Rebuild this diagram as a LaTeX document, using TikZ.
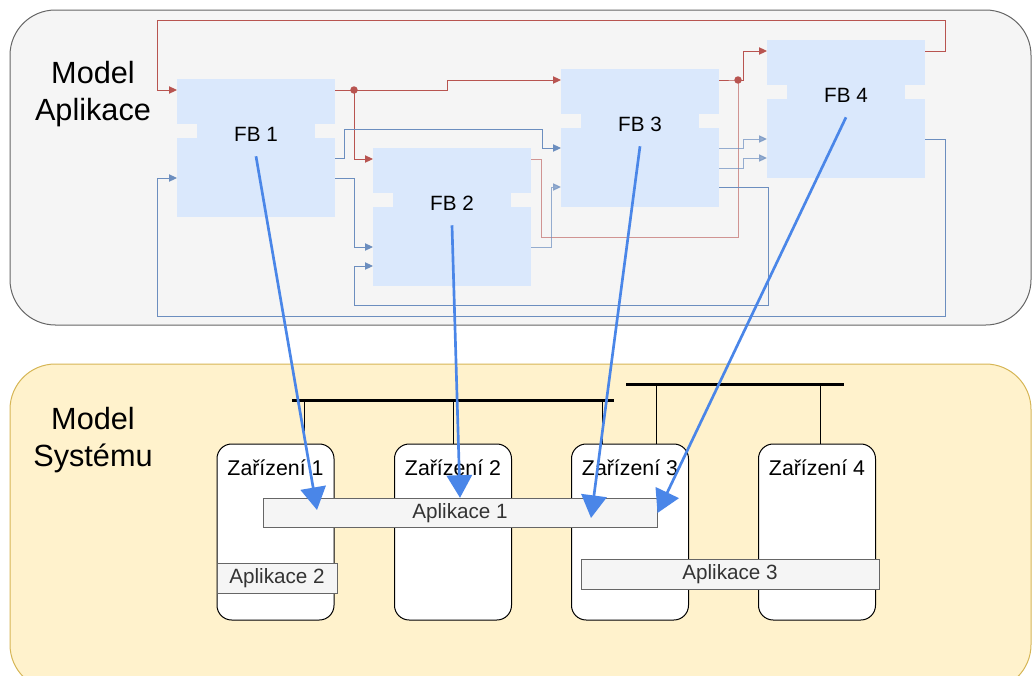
\documentclass[tikz,border=0pt]{standalone}
\usepackage{fontspec}
\setmainfont{Liberation Sans}
\usepackage{tikz}
\usetikzlibrary{arrows.meta}
\usetikzlibrary{positioning}
\definecolor{panelgray}{HTML}{F5F5F5}
\definecolor{panelline}{HTML}{666666}
\definecolor{sysfill}{HTML}{FFF2CC}
\definecolor{sysline}{HTML}{D6B656}
\definecolor{fbblue}{HTML}{DAE8FC}
\definecolor{evred}{HTML}{B85450}
\definecolor{datablue}{HTML}{6C8EBF}
\definecolor{mapblue}{HTML}{4A86E8}
\definecolor{apptext}{HTML}{333333}
\tikzset{
	panel/.style={draw=panelline, fill=panelgray, line width=0.75pt, rounded corners=34pt},
	syspanel/.style={draw=sysline, fill=sysfill, line width=0.75pt, rounded corners=34pt},
	modeltext/.style={align=center, font=\fontsize{23}{28}\selectfont},
	fbbody/.style={fill=fbblue},
	fbneck/.style={fill=panelgray},
	fbtext/.style={font=\fontsize{15.5}{18}\selectfont, minimum height=33pt, inner sep=0pt},
	event/.style={draw=evred, line width=0.75pt, -{Triangle[length=6pt,width=5.5pt]}},
	eventline/.style={draw=evred, line width=0.75pt, draw opacity=0.6},
	data/.style={draw=datablue, line width=0.75pt, -{Triangle[length=6pt,width=5.5pt]}},
	datapale/.style={data, draw opacity=0.7, fill opacity=0.7},
	bus/.style={draw=black, line width=2.25pt},
	tap/.style={draw=black, line width=0.75pt},
	device/.style={draw=black, fill=white, line width=0.75pt, rounded corners=11pt,
		minimum width=87.75pt, minimum height=132pt},
	devtext/.style={font=\fontsize{16}{19}\selectfont, inner sep=0pt},
	app/.style={draw=panelline, fill=panelgray, line width=0.75pt, text=apptext,
		font=\fontsize{15.5}{18}\selectfont, minimum height=22pt, inner sep=0pt},
	mapping/.style={draw=mapblue, line width=2pt, -{Triangle[length=17pt,width=19pt]}},
}
% function block: name, left, top, label
\newcommand{\fblock}[4]{%
	\fill[fbbody] (#2,#3) rectangle ++(158,138);
	\fill[fbneck] (#2,#3+45) rectangle ++(20,14);
	\fill[fbneck] (#2+138,#3+45) rectangle ++(20,14);
	\node[fbtext] (#1) at (#2+79,#3+55) {#4};
	\coordinate (#1-ei) at (#2,#3+11);
	\coordinate (#1-i2) at (#2,#3+99);
	\coordinate (#1-i3) at (#2,#3+118);
	\coordinate (#1-i1) at (#2,#3+79);
	\coordinate (#1-eo) at (#2+158,#3+11);
	\coordinate (#1-o1) at (#2+158,#3+79);
	\coordinate (#1-o2) at (#2+158,#3+99);
	\coordinate (#1-o3) at (#2+158,#3+118);
}

\begin{document}
\begin{tikzpicture}[x=0.75pt, y=-0.75pt]
	\clip (0,0) rectangle (1032,675);
	\draw[panel] (10,10) rectangle (1031,325);
	\draw[syspanel] (10,364) rectangle (1031,690);
	\node[modeltext] (mapl) at (93,94) {Model\\Aplikace};
	\node[modeltext] (msys) at (93,440) {Model\\Systému};

	\fblock{fb1}{177}{79}{FB 1}
	\fblock{fb2}{373}{148}{FB 2}
	\fblock{fb3}{561}{69}{FB 3}
	\fblock{fb4}{767}{40}{FB 4}

	\coordinate (j1) at (354,90);
	\coordinate (j2) at (738,80);
	\draw[event] (fb4-eo) -| (945,20) -| (157,90) -- (fb1-ei);
	\draw[event] (fb1-eo) -| (447,80) -- (fb3-ei);
	\draw[event] (j1) |- (fb2-ei);
	\draw[eventline] (fb2-eo) -| (541,237) -| (j2);
	\draw[event] (fb3-eo) -- (j2) -| (743,51) -- (fb4-ei);
	\fill[evred] (j1) circle (2.8pt);
	\fill[evred] (j2) circle (2.8pt);

	\draw[data] (fb1-o1) -| (344,129) -| (542,148) -- (fb3-i1);
	\draw[data] (fb1-o2) -| (354,247) -- (fb2-i2);
	\draw[datapale] (fb2-o2) -| (551,187) -- (fb3-i3);
	\draw[datapale] (fb3-o1) -| (743,139) -- (fb4-i2);
	\draw[datapale] (fb3-o2) -| (743,158) -- (fb4-i3);
	\draw[data] (fb3-o3) -| (768,305) -| (354,266) -- (fb2-i3);
	\draw[data] (fb4-o2) -| (945,316) -| (157,178) -- (fb1-i2);

	\node[device] (dev1) at (275.5,532) {};
	\node[device] (dev2) at (453,532) {};
	\node[device] (dev3) at (630,532) {};
	\node[device] (dev4) at (817,532) {};
	\node[devtext, anchor=base] (dev1t) at (275.5,475) {Zařízení 1};
	\node[devtext, anchor=base] (dev2t) at (453,475) {Zařízení 2};
	\node[devtext, anchor=base] (dev3t) at (630,475) {Zařízení 3};
	\node[devtext, anchor=base] (dev4t) at (817,475) {Zařízení 4};

	\coordinate (busA-w) at (292,400);
	\coordinate (busA-e) at (614,400);
	\coordinate (busB-w) at (626,384);
	\coordinate (busB-e) at (844,384);
	\draw[bus] (busA-w) -- (busA-e);
	\draw[bus] (busB-w) -- (busB-e);
	\foreach \x/\d in {304/dev1,453/dev2,602/dev3}{
		\coordinate (tapA\d) at (\x,400);
		\draw[tap] (tapA\d) -- (tapA\d |- \d.north);
	}
	\foreach \x/\d in {656/dev3,820/dev4}{
		\coordinate (tapB\d) at (\x,384);
		\draw[tap] (tapB\d) -- (tapB\d |- \d.north);
	}

	\node[app, minimum width=295.5pt] (app1) at (460,513) {Aplikace 1};
	\node[app, minimum width=90pt] (app2) at (277,578.5) {Aplikace 2};
	\node[app, minimum width=223.5pt] (app3) at (730,574.5) {Aplikace 3};

	\coordinate (app1-fb1) at (317,510);
	\coordinate (app1-fb3) at (591,518);
	\draw[mapping] (fb1.south) -- (app1-fb1);
	\draw[mapping] (fb2.south) -- (app1.north);
	\draw[mapping] (fb3.south) -- (app1-fb3);
	\draw[mapping] (fb4.south) -- (app1.east);
\end{tikzpicture}
\end{document}
